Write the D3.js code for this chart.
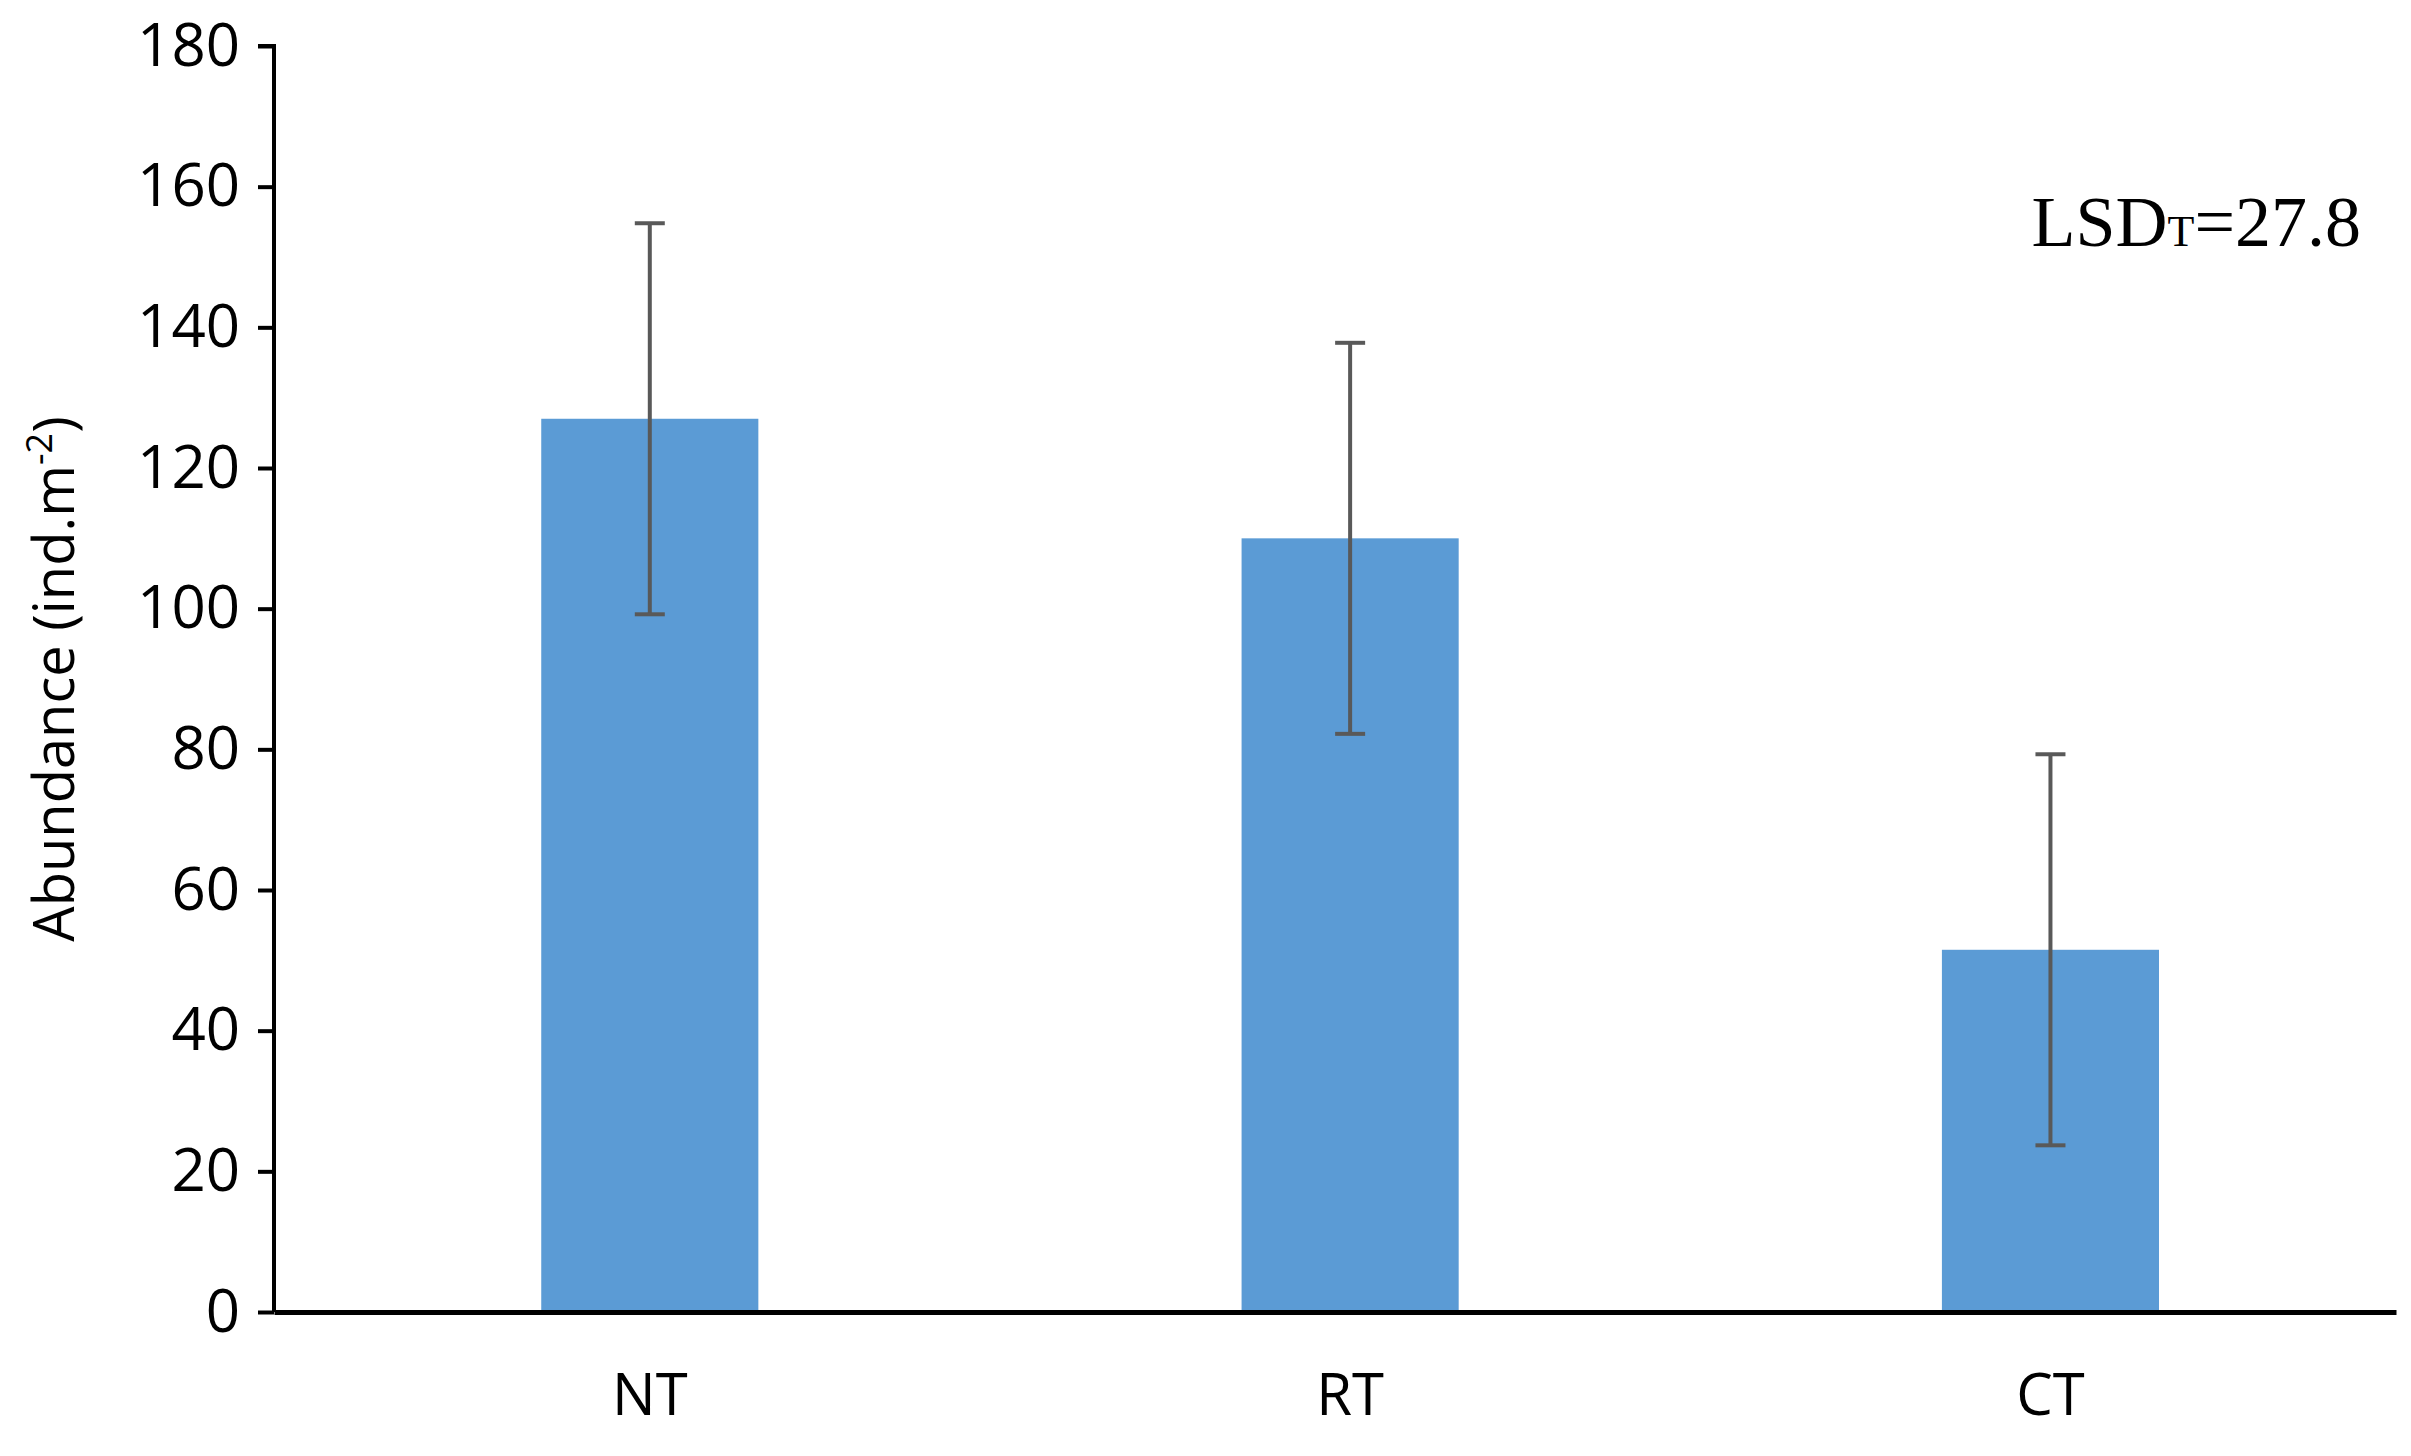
<!DOCTYPE html>
<html>
<head>
<meta charset="utf-8">
<script src="https://cdn.jsdelivr.net/npm/d3@7"></script>
<style>
  body { margin: 0; background: #fff; }
  text { font-family: "Open Sans", "Liberation Sans", sans-serif; fill: #000; }
</style>
</head>
<body>
<div id="chart"></div>
<script>
let categories = ["NT", "RT", "CT"];
let means = [127, 110, 51.5];
let errors = [27.8, 27.8, 27.8];
let yTicks = [0, 20, 40, 60, 80, 100, 120, 140, 160, 180];

let margin = { top: 46, right: 15, bottom: 144, left: 274 };
let width = 2411 - margin.left - margin.right;
let height = 1456 - margin.top - margin.bottom;

let svg = d3.select("#chart").append("svg")
    .attr("width", 2411)
    .attr("height", 1456)
    .append("g")
    .attr("transform", "translate(" + margin.left + "," + margin.top + ")");

let x = d3.scaleBand().domain(categories).range([0, width])
    .paddingInner(0.69).paddingOuter(0.36).align(0.53);
let y = d3.scaleLinear().domain([0, 180]).range([height, 0]);

// bars
svg.selectAll(".bar")
    .data(categories)
    .enter().append("rect")
    .attr("class", "bar")
    .attr("x", d => x(d))
    .attr("width", x.bandwidth())
    .attr("y", (d, i) => y(means[i]))
    .attr("height", (d, i) => height - y(means[i]))
    .attr("fill", "#5b9bd5");

// error bars
let eb = svg.selectAll(".err")
    .data(categories)
    .enter().append("g")
    .attr("class", "err")
    .attr("stroke", "#595959")
    .attr("stroke-width", 4);
let cx = d => x(d) + x.bandwidth() / 2;
eb.append("line")
    .attr("x1", cx).attr("x2", cx)
    .attr("y1", (d, i) => y(means[i] - errors[i]))
    .attr("y2", (d, i) => y(means[i] + errors[i]));
eb.append("line")
    .attr("x1", d => cx(d) - 15).attr("x2", d => cx(d) + 15)
    .attr("y1", (d, i) => y(means[i] + errors[i]))
    .attr("y2", (d, i) => y(means[i] + errors[i]));
eb.append("line")
    .attr("x1", d => cx(d) - 15).attr("x2", d => cx(d) + 15)
    .attr("y1", (d, i) => y(means[i] - errors[i]))
    .attr("y2", (d, i) => y(means[i] - errors[i]));

// y axis
let yAxis = svg.append("g")
    .call(d3.axisLeft(y).tickValues(yTicks).tickSize(16).tickPadding(18));
yAxis.selectAll("text").style("font-size", "60px");
yAxis.selectAll("line, path").attr("stroke", "#000").attr("stroke-width", 4);
yAxis.select(".domain").attr("d", "M-16,0H0V" + height);

// x axis
let xAxis = svg.append("g")
    .attr("transform", "translate(0," + height + ")")
    .call(d3.axisBottom(x).tickSize(0).tickPadding(62));
xAxis.selectAll("text").style("font-size", "58px");
xAxis.select(".domain").attr("stroke", "#000").attr("stroke-width", 5);

// y label
svg.append("text")
    .attr("transform", "translate(" + (-200) + "," + (height / 2) + ") rotate(-90)")
    .attr("text-anchor", "middle")
    .style("font-size", "56px")
    .html('Abundance (ind.m<tspan dy="-22" font-size="36px">-2</tspan><tspan dy="22">)</tspan>');

// LSD annotation
svg.append("text")
    .attr("x", width - 35)
    .attr("y", 200)
    .attr("text-anchor", "end")
    .style("font-family", "'Liberation Serif', serif")
    .style("font-size", "72px")
    .html('LSD<tspan font-size="44px">T</tspan>=27.8');
</script>
</body>
</html>
